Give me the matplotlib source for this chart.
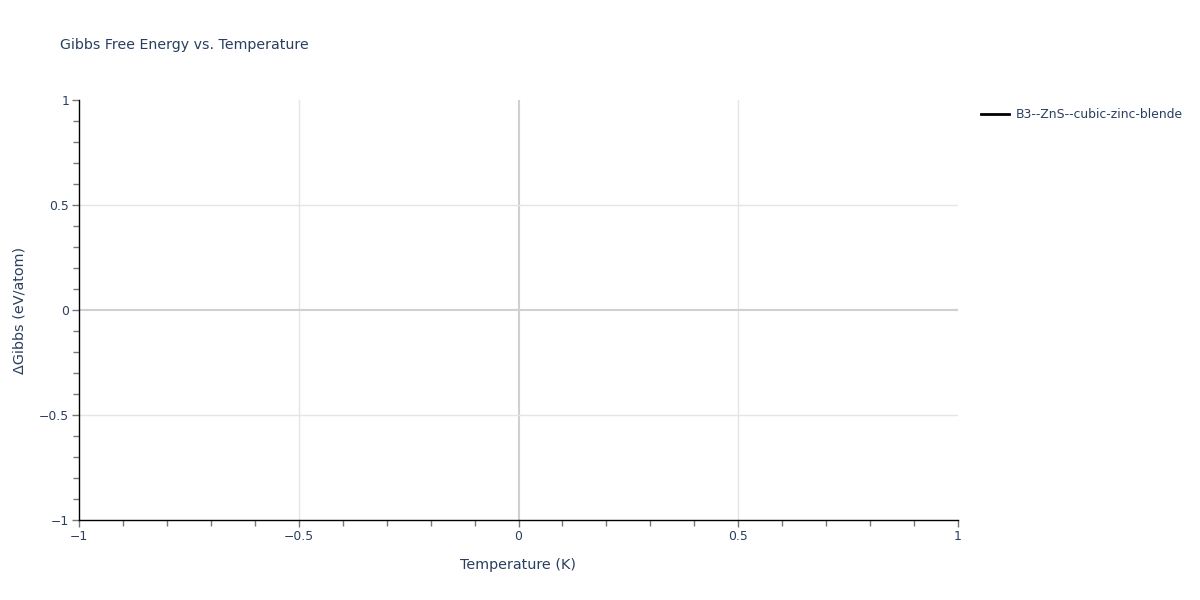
import matplotlib
matplotlib.use("Agg")
import matplotlib.pyplot as plt
from matplotlib.ticker import MultipleLocator, FuncFormatter

# The reference shows a single series with no visible points
series_name = "B3--ZnS--cubic-zinc-blende"
temperatures = []
gibbs = []

x_range = [-1, 1]
y_range = [-1, 1]
x_grid = [-0.5, 0, 0.5]
y_grid = [-0.5, 0, 0.5]

text_color = "#2a3f5f"
plt.rcParams['font.family'] = ['DejaVu Sans']

fig = plt.figure(figsize=(12, 6), dpi=100)
# plot area in pixels: x 79..958, y 100..520
ax = fig.add_axes([79 / 1200, 80 / 600, 879 / 1200, 420 / 600])

ax.plot(temperatures, gibbs, color="black", linewidth=2, label=series_name)

ax.set_xlim(x_range)
ax.set_ylim(y_range)

ax.xaxis.set_major_locator(MultipleLocator(0.5))
ax.yaxis.set_major_locator(MultipleLocator(0.5))
ax.xaxis.set_minor_locator(MultipleLocator(0.1))
ax.yaxis.set_minor_locator(MultipleLocator(0.1))


def fmt(v, pos):
    if abs(v) < 1e-9:
        return "0"
    s = ("%g" % v)
    return s.replace("-", "\u2212")


ax.xaxis.set_major_formatter(FuncFormatter(fmt))
ax.yaxis.set_major_formatter(FuncFormatter(fmt))

# interior grid lines only (none on the plot edges)
for gx in x_grid:
    if gx == 0:
        ax.axvline(gx, color="#d0d0d0", linewidth=1.5, zorder=1)
    else:
        ax.axvline(gx, color="#e5e5e5", linewidth=1, zorder=1)
for gy in y_grid:
    if gy == 0:
        ax.axhline(gy, color="#d0d0d0", linewidth=1.5, zorder=1)
    else:
        ax.axhline(gy, color="#e5e5e5", linewidth=1, zorder=1)

for side in ["top", "right"]:
    ax.spines[side].set_visible(False)
for side in ["left", "bottom"]:
    ax.spines[side].set_color("black")
    ax.spines[side].set_linewidth(1)

ax.tick_params(which="both", direction="out", color="#777777", width=1,
               labelcolor=text_color, labelsize=8.9)
ax.tick_params(which="major", length=5, pad=2)
ax.tick_params(which="minor", length=4)

ax.set_xlabel("Temperature (K)", fontsize=10.4, color=text_color, labelpad=11)
ax.set_ylabel("\u0394Gibbs (eV/atom)", fontsize=10.4, color=text_color, labelpad=9)

fig.text(60 / 1200, 1 - 45 / 600, "Gibbs Free Energy vs. Temperature",
         fontsize=10.2, color=text_color, va="center", ha="left")

leg = fig.legend(loc="upper left", bbox_to_anchor=(976 / 1200, 1 - 103 / 600),
                 frameon=False, fontsize=8.9, handlelength=2.3, handletextpad=0.5,
                 borderaxespad=0)
for t in leg.get_texts():
    t.set_color(text_color)

fig.savefig("out.png", dpi=100)
